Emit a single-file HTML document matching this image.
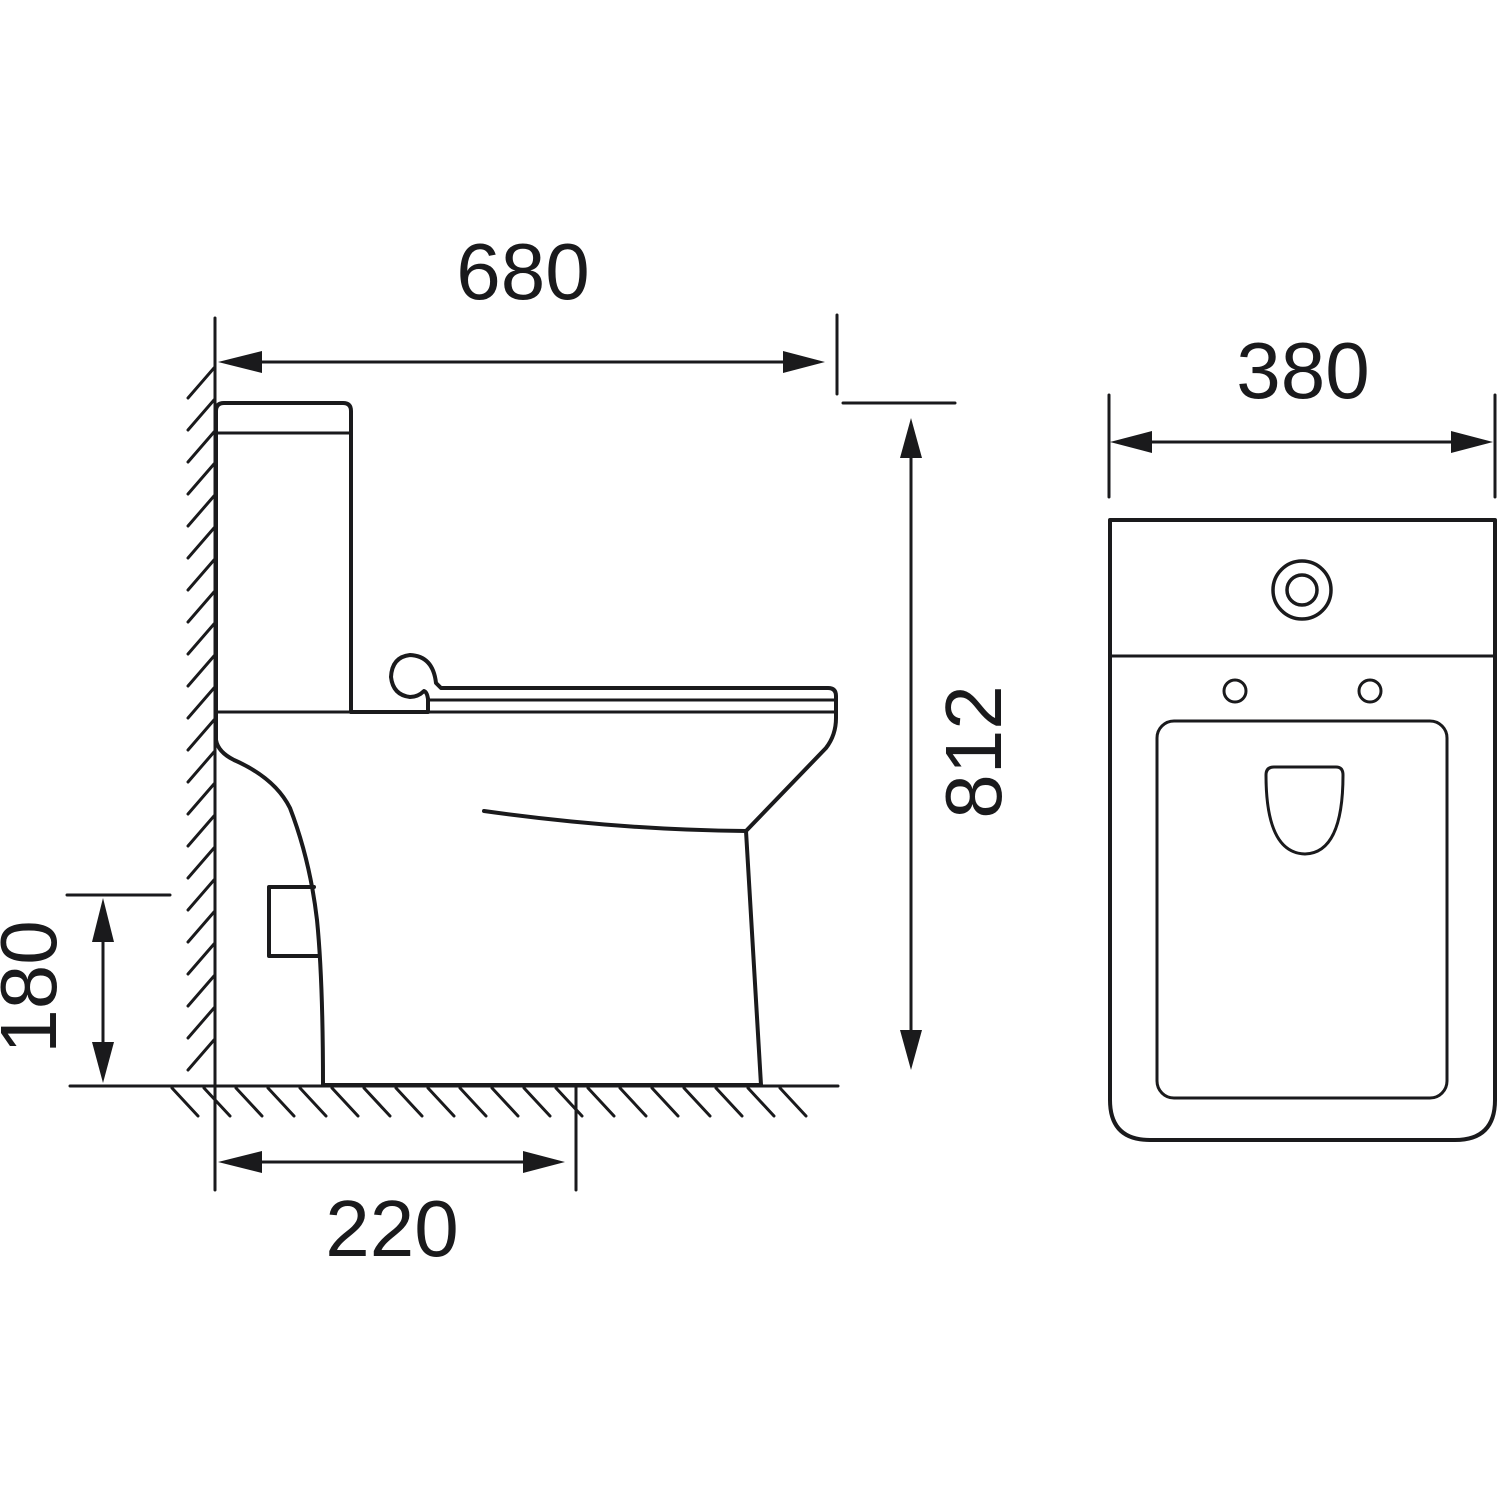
<!DOCTYPE html>
<html><head><meta charset="utf-8"><style>html,body{margin:0;padding:0;background:#fff}svg{display:block}</style></head>
<body>
<svg width="1500" height="1500" viewBox="0 0 1500 1500" xmlns="http://www.w3.org/2000/svg">
<g fill="none" stroke="#1a1a1c" stroke-linecap="round" stroke-linejoin="round">
<!-- wall -->
<line x1="215" y1="318" x2="215" y2="1190" stroke-width="3"/>
<g stroke-width="3">
<line x1="214" y1="368" x2="188" y2="398"/><line x1="214" y1="400" x2="188" y2="430"/><line x1="214" y1="432" x2="188" y2="462"/><line x1="214" y1="464" x2="188" y2="494"/><line x1="214" y1="496" x2="188" y2="526"/><line x1="214" y1="528" x2="188" y2="558"/><line x1="214" y1="560" x2="188" y2="590"/><line x1="214" y1="592" x2="188" y2="622"/><line x1="214" y1="624" x2="188" y2="654"/><line x1="214" y1="656" x2="188" y2="686"/><line x1="214" y1="688" x2="188" y2="718"/><line x1="214" y1="720" x2="188" y2="750"/><line x1="214" y1="752" x2="188" y2="782"/><line x1="214" y1="784" x2="188" y2="814"/><line x1="214" y1="816" x2="188" y2="846"/><line x1="214" y1="848" x2="188" y2="878"/><line x1="214" y1="880" x2="188" y2="910"/><line x1="214" y1="912" x2="188" y2="942"/><line x1="214" y1="944" x2="188" y2="974"/><line x1="214" y1="976" x2="188" y2="1006"/><line x1="214" y1="1008" x2="188" y2="1038"/><line x1="214" y1="1040" x2="188" y2="1070"/>
</g>
<!-- floor -->
<line x1="70" y1="1086" x2="838" y2="1086" stroke-width="3"/>
<g stroke-width="3">
<line x1="172" y1="1088" x2="198" y2="1116"/><line x1="204" y1="1088" x2="230" y2="1116"/><line x1="236" y1="1088" x2="262" y2="1116"/><line x1="268" y1="1088" x2="294" y2="1116"/><line x1="300" y1="1088" x2="326" y2="1116"/><line x1="332" y1="1088" x2="358" y2="1116"/><line x1="364" y1="1088" x2="390" y2="1116"/><line x1="396" y1="1088" x2="422" y2="1116"/><line x1="428" y1="1088" x2="454" y2="1116"/><line x1="460" y1="1088" x2="486" y2="1116"/><line x1="492" y1="1088" x2="518" y2="1116"/><line x1="524" y1="1088" x2="550" y2="1116"/><line x1="556" y1="1088" x2="582" y2="1116"/><line x1="588" y1="1088" x2="614" y2="1116"/><line x1="620" y1="1088" x2="646" y2="1116"/><line x1="652" y1="1088" x2="678" y2="1116"/><line x1="684" y1="1088" x2="710" y2="1116"/><line x1="716" y1="1088" x2="742" y2="1116"/><line x1="748" y1="1088" x2="774" y2="1116"/><line x1="780" y1="1088" x2="806" y2="1116"/>
</g>
<!-- tank -->
<path d="M216 712 V411 Q216 403 224 403 H343 Q351 403 351 411 V712" stroke-width="4"/>
<line x1="216" y1="433" x2="351" y2="433" stroke-width="3"/>
<line x1="216" y1="712" x2="836" y2="712" stroke-width="3"/>
<path d="M351 712 H428 V699" stroke-width="4"/>
<!-- seat -->
<path d="M428 699 Q427 692 424 691 Q418 697 410 697 Q393 695 391 677 Q392 657 410 655 Q433 656 436 683 L441 688 H828 Q836 688 836 696 V718 Q836 735 826 748 L746 831" stroke-width="4"/>
<line x1="428" y1="700" x2="836" y2="700" stroke-width="3"/>
<path d="M484 811 Q620 830 746 831" stroke-width="4"/>
<path d="M746 831 L761 1085" stroke-width="4"/>
<!-- back -->
<path d="M216 712 V740 Q218 752 234 760 Q275 778 290 808 Q310 860 317 920 Q323 980 323 1085" stroke-width="4"/>
<path d="M314 887 H269 V956 H318" stroke-width="4"/>
<line x1="323" y1="1085" x2="761" y2="1085" stroke-width="4"/>
<!-- dims -->
<line x1="230" y1="362" x2="815" y2="362" stroke-width="3"/>
<line x1="837" y1="315" x2="837" y2="394" stroke-width="3"/>
<line x1="843" y1="403" x2="955" y2="403" stroke-width="3"/>
<line x1="911" y1="430" x2="911" y2="1058" stroke-width="3"/>
<line x1="67" y1="895" x2="170" y2="895" stroke-width="3"/>
<line x1="103" y1="910" x2="103" y2="1072" stroke-width="3"/>
<line x1="230" y1="1162" x2="555" y2="1162" stroke-width="3"/>
<line x1="576" y1="1086" x2="576" y2="1190" stroke-width="3"/>
<line x1="1109" y1="395" x2="1109" y2="497" stroke-width="3"/>
<line x1="1495" y1="395" x2="1495" y2="497" stroke-width="3"/>
<line x1="1125" y1="442" x2="1480" y2="442" stroke-width="3"/>
<!-- right view -->
<path d="M1110 520 H1495 V1100 Q1495 1140 1455 1140 H1150 Q1110 1140 1110 1100 Z" stroke-width="4"/>
<line x1="1110" y1="656" x2="1495" y2="656" stroke-width="3"/>
<circle cx="1302" cy="590" r="29" stroke-width="3.5"/>
<circle cx="1302" cy="590" r="15" stroke-width="3.5"/>
<circle cx="1235" cy="691" r="11" stroke-width="3"/>
<circle cx="1370" cy="691" r="11" stroke-width="3"/>
<rect x="1157" y="721" width="290" height="377" rx="17" stroke-width="3"/>
<path d="M1274 767 H1336 Q1343 767 1343 775 Q1343 853 1305 854 Q1266 853 1266 775 Q1266 767 1274 767 Z" stroke-width="3"/>
</g>
<g fill="#1a1a1c">
<polygon points="218,362 262,351 262,373"/>
<polygon points="825,362 783,351 783,373"/>
<polygon points="911,418 900,458 922,458"/>
<polygon points="911,1070 900,1030 922,1030"/>
<polygon points="103,898 92,942 114,942"/>
<polygon points="103,1083 92,1042 114,1042"/>
<polygon points="218,1162 262,1151 262,1173"/>
<polygon points="565,1162 523,1151 523,1173"/>
<polygon points="1110,442 1152,431 1152,453"/>
<polygon points="1493,442 1451,431 1451,453"/>
</g>
<g font-family="Liberation Sans, sans-serif" font-size="80" fill="#1a1a1c" text-anchor="middle">
<text x="523" y="299">680</text>
<text x="1303" y="398">380</text>
<text x="392" y="1256">220</text>
<text transform="translate(1001,752) rotate(-90)">812</text>
<text transform="translate(56,987) rotate(-90)">180</text>
</g>
</svg>
</body></html>
